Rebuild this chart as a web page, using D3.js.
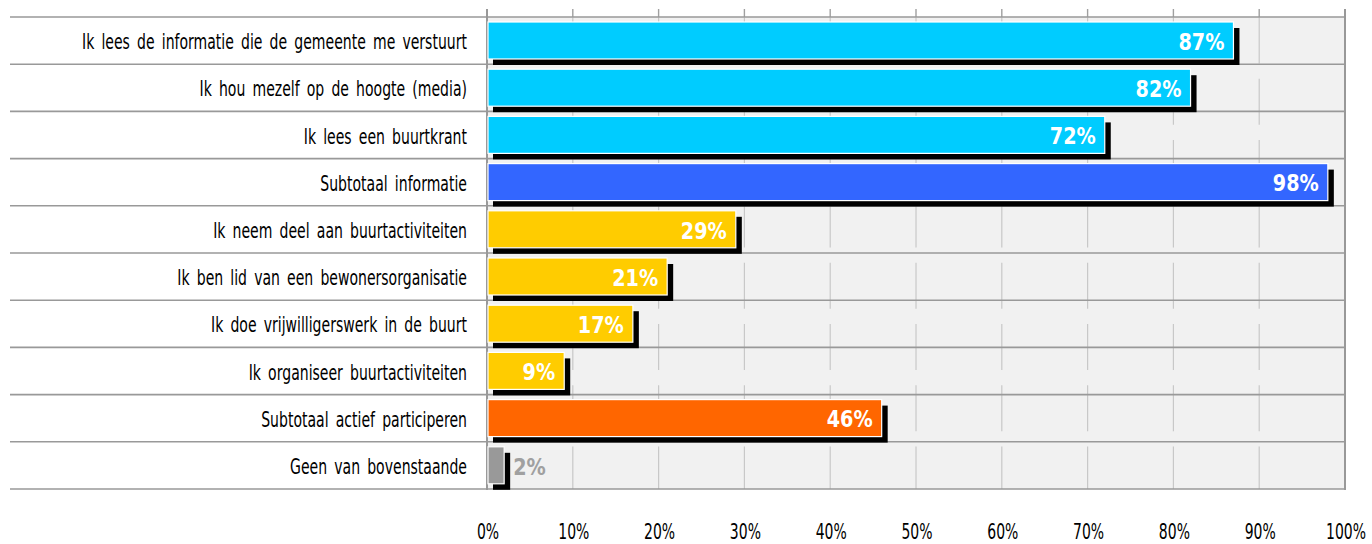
<!DOCTYPE html>
<html><head><meta charset="utf-8">
<script src="https://cdn.jsdelivr.net/npm/d3@7"></script>
<style>body{margin:0;background:#fff}svg{display:block}</style>
</head><body>
<svg id="c" width="1372" height="544"></svg>
<script>
const categories = [
  "Ik lees de informatie die de gemeente me verstuurt",
  "Ik hou mezelf op de hoogte (media)",
  "Ik lees een buurtkrant",
  "Subtotaal informatie",
  "Ik neem deel aan buurtactiviteiten",
  "Ik ben lid van een bewonersorganisatie",
  "Ik doe vrijwilligerswerk in de buurt",
  "Ik organiseer buurtactiviteiten",
  "Subtotaal actief participeren",
  "Geen van bovenstaande"
];
const values = [87, 82, 72, 98, 29, 21, 17, 9, 46, 2];
const groups = ["info","info","info","subinfo","act","act","act","act","subact","none"];
const groupColors = {info:"#00CCFF", subinfo:"#3366FF", act:"#FFCC00", subact:"#FF6600", none:"#999999"};
const ticks = [0,10,20,30,40,50,60,70,80,90,100];

const svg = d3.select("#c");
const x = d3.scaleLinear().domain([0,100]).range([487,1345]);
const y = d3.scaleBand().domain(categories).range([17,489]).padding(0);
const font = "'DejaVu Sans',sans-serif";

// horizontally condense texts: each text placed by its data-x/data-y, scaled by k
function condense(sel, refWidth, refLen) {
  const k = refWidth / refLen;
  sel.each(function(){
    const t = d3.select(this);
    const px = +t.attr("x"), py = +t.attr("y");
    t.attr("x",0).attr("y",0).attr("transform",`translate(${px},${py}) scale(${k},1)`);
  });
}

// plot background
svg.append("rect").attr("x",x(0)).attr("y",17).attr("width",x(100)-x(0)).attr("height",489-17).attr("fill","#F1F1F1");

// top tick marks
svg.append("g").selectAll("line").data(ticks).join("line")
  .attr("x1",d=>x(d)).attr("x2",d=>x(d)).attr("y1",9).attr("y2",17)
  .attr("stroke","#A0A0A0").attr("stroke-width",1.4);

// dashed gridlines
svg.append("g").selectAll("line").data(ticks.slice(1,10)).join("line")
  .attr("x1",d=>x(d)).attr("x2",d=>x(d)).attr("y1",17.5).attr("y2",489)
  .attr("stroke","#C8C8C8").attr("stroke-width",1.2).attr("stroke-dasharray","46 15.3");
svg.append("line").attr("x1",x(0)).attr("x2",x(0)).attr("y1",9).attr("y2",490).attr("stroke","#999").attr("stroke-width",2);
svg.append("line").attr("x1",x(100)).attr("x2",x(100)).attr("y1",9).attr("y2",490).attr("stroke","#999").attr("stroke-width",2);

// row separators
const seps = categories.map(c=>y(c)).concat([489]);
svg.append("g").selectAll("line").data(seps).join("line")
  .attr("x1",10).attr("x2",x(100)+1).attr("y1",d=>d).attr("y2",d=>d)
  .attr("stroke","#999").attr("stroke-width",1.6);

// bars
const off = 6;
const bh = 37;
const g = svg.append("g");
categories.forEach((c,i)=>{
  const top = y(c)+5;
  g.append("rect").attr("x",x(0)+off).attr("y",top+off).attr("width",x(values[i])-x(0)).attr("height",bh).attr("fill","#000");
  g.append("rect").attr("x",x(0)+1).attr("y",top).attr("width",x(values[i])-x(0)-1).attr("height",bh)
    .attr("fill",groupColors[groups[i]]).attr("stroke","#fff").attr("stroke-width",1.2);
  const inside = values[i] > 5;
  g.append("text")
    .attr("class","val")
    .attr("x", inside ? x(values[i])-9 : x(values[i])+9)
    .attr("y", top+bh/2+1)
    .attr("dy","0.36em")
    .attr("text-anchor", inside ? "end" : "start")
    .attr("font-family",font).attr("font-weight","bold").attr("font-size",23)
    .attr("fill", inside ? "#fff" : "#A0A0A0")
    .text(values[i]+"%");
});
const vsel = svg.selectAll("text.val");
condense(vsel, 46, vsel.nodes()[0].getComputedTextLength());

// category labels
const cl = svg.append("g").selectAll("text").data(categories).join("text")
  .attr("x",467).attr("y",d=>y(d)+y.bandwidth()/2+1).attr("dy","0.36em")
  .attr("text-anchor","end").attr("font-family",font).attr("font-size",21)
  .attr("word-spacing",4).attr("fill","#000").text(d=>d);
condense(cl, 385, cl.nodes()[0].getComputedTextLength());

// x axis labels
const al = svg.append("g").selectAll("text").data(ticks).join("text")
  .attr("x",d=>x(d)+1).attr("y",531).attr("dy","0.36em").attr("text-anchor","middle")
  .attr("font-family",font).attr("font-size",22).attr("fill","#000").text(d=>d+"%");
condense(al, 40, al.nodes()[10].getComputedTextLength());
</script>
</body></html>
